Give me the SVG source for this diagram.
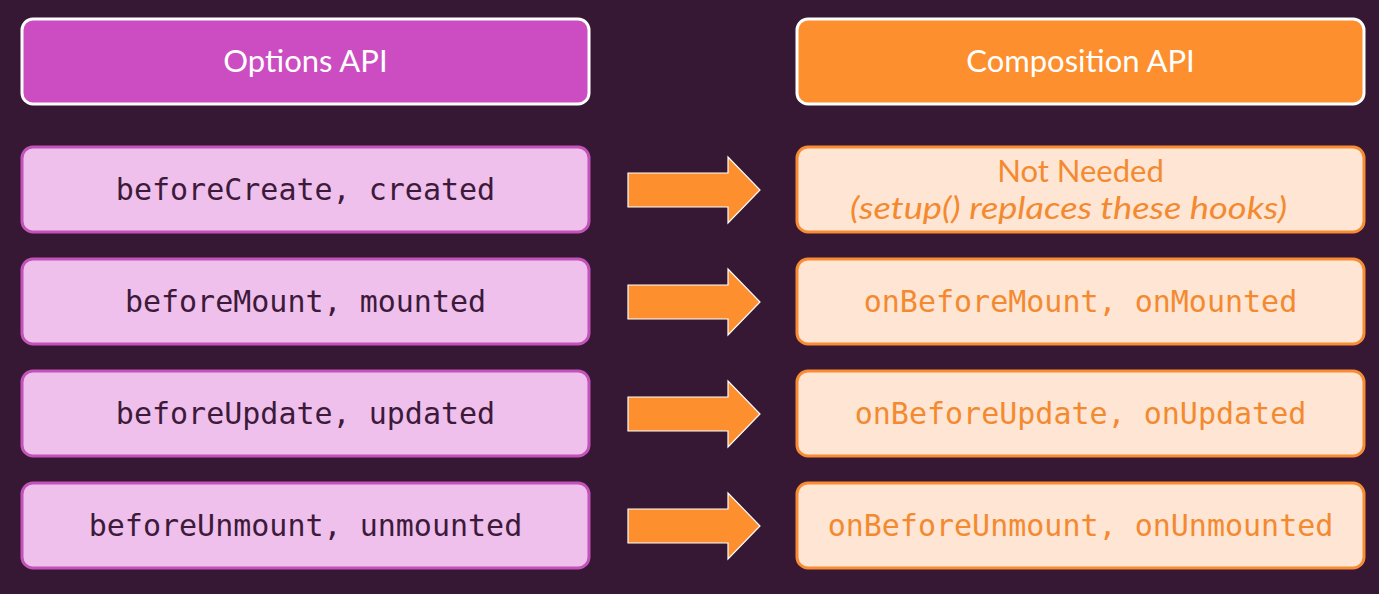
<svg xmlns="http://www.w3.org/2000/svg" width="1379" height="594" viewBox="0 0 1379 594">
  <defs>
    <style>
      .bg { fill: #361835; }
      .hdr-opt { fill: #cb4dc1; stroke: #ffffff; stroke-width: 3; }
      .hdr-comp { fill: #fd8f2f; stroke: #ffffff; stroke-width: 3; }
      .opt { fill: #efc0ec; stroke: #c452bb; stroke-width: 3; }
      .comp { fill: #fee5d4; stroke: #f98c33; stroke-width: 3; }
      .hdr-text { font-family: Lato, "Noto Sans", sans-serif; font-size: 31px; fill: #ffffff; text-anchor: middle; }
      .code-opt { font-family: "DejaVu Sans Mono", monospace; font-size: 30px; fill: #3d1a3a; text-anchor: middle; }
      .code-comp { font-family: "DejaVu Sans Mono", monospace; font-size: 30px; fill: #f38a30; text-anchor: middle; }
      .note { font-family: Lato, "Noto Sans", sans-serif; font-size: 31px; fill: #f38a30; text-anchor: middle; }
      .arrow { fill: #fd8f2f; stroke: #ffffff; stroke-width: 1.2; }
    </style>
    <path id="arr" class="arrow" d="M0,-17 H100 V-33 L132,0 L100,33 V17 H0 Z"/>
  </defs>

  <rect class="bg" x="0" y="0" width="1379" height="594"/>

  <!-- column headers -->
  <g id="options-header">
    <rect class="hdr-opt" x="22" y="19" width="567" height="85" rx="11"/>
    <text class="hdr-text" x="305.5" y="72">Options API</text>
  </g>
  <g id="composition-header">
    <rect class="hdr-comp" x="797" y="19" width="567" height="85" rx="11"/>
    <text class="hdr-text" x="1080.5" y="72">Composition API</text>
  </g>

  <!-- Options API hooks -->
  <g id="opt-create">
    <rect class="opt" x="22" y="147" width="567" height="85" rx="11"/>
    <text class="code-opt" x="305.5" y="200">beforeCreate, created</text>
  </g>
  <g id="opt-mount">
    <rect class="opt" x="22" y="259" width="567" height="85" rx="11"/>
    <text class="code-opt" x="305.5" y="312">beforeMount, mounted</text>
  </g>
  <g id="opt-update">
    <rect class="opt" x="22" y="371" width="567" height="85" rx="11"/>
    <text class="code-opt" x="305.5" y="424">beforeUpdate, updated</text>
  </g>
  <g id="opt-unmount">
    <rect class="opt" x="22" y="483" width="567" height="85" rx="11"/>
    <text class="code-opt" x="305.5" y="536">beforeUnmount, unmounted</text>
  </g>

  <!-- Composition API equivalents -->
  <g id="comp-create">
    <rect class="comp" x="797" y="147" width="567" height="85" rx="11"/>
    <text class="note" x="1080.5" y="182">Not Needed</text>
    <text class="note" x="1068.5" y="219" font-style="italic" textLength="437" lengthAdjust="spacingAndGlyphs">(setup() replaces these hooks)</text>
  </g>
  <g id="comp-mount">
    <rect class="comp" x="797" y="259" width="567" height="85" rx="11"/>
    <text class="code-comp" x="1080.5" y="312">onBeforeMount, onMounted</text>
  </g>
  <g id="comp-update">
    <rect class="comp" x="797" y="371" width="567" height="85" rx="11"/>
    <text class="code-comp" x="1080.5" y="424">onBeforeUpdate, onUpdated</text>
  </g>
  <g id="comp-unmount">
    <rect class="comp" x="797" y="483" width="567" height="85" rx="11"/>
    <text class="code-comp" x="1080.5" y="536">onBeforeUnmount, onUnmounted</text>
  </g>

  <!-- block arrows -->
  <g id="connectors">
    <use href="#arr" x="628" y="190"/>
    <use href="#arr" x="628" y="302"/>
    <use href="#arr" x="628" y="414"/>
    <use href="#arr" x="628" y="526"/>
  </g>
</svg>
